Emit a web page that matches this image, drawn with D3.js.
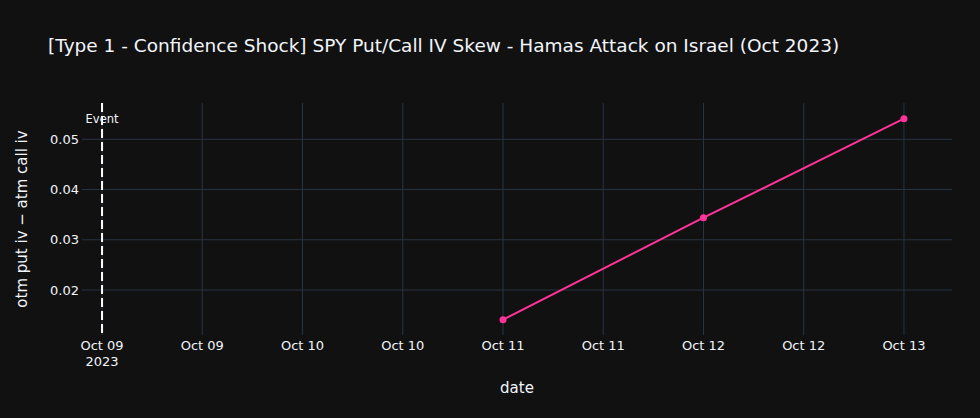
<!DOCTYPE html>
<html>
  <meta charset="utf-8">
  <head>
    <style>
        body {
              margin: 0;
              background-color: rgb(17,17,17);
              font-family: "DejaVu Sans", Verdana, sans-serif;
              }
        svg { display: block; }
    </style>
    <title>SPY Put/Call IV Skew</title>
    <script src="https://cdn.jsdelivr.net/npm/d3@7"></script>
  </head>
  <body>
    <script>
      // data
      var dates = ["2023-10-11", "2023-10-12", "2023-10-13"];
      var skew = [0.0141, 0.0344, 0.0541];
      var eventDate = "2023-10-09";
      var eventLabel = "Event";
      var yTicks = [0.02, 0.03, 0.04, 0.05];
      var titleText = "[Type 1 - Confidence Shock] SPY Put/Call IV Skew - Hamas Attack on Israel (Oct 2023)";
      var xTitle = "date";
      var yTitle = "otm put iv \u2212 atm call iv";

      function chart() {
        var W = 980, H = 418;
        var margin = {top: 103, right: 28, bottom: 83, left: 82},
            w = W - margin.left - margin.right,
            h = H - margin.top - margin.bottom;
        var HOUR = 3600 * 1000;

        var parse = d3.utcParse("%Y-%m-%d");
        var points = dates.map(function(d, i) { return {date: parse(d), v: skew[i]}; });
        var ev = parse(eventDate);
        var last = points[points.length - 1].date;

        var svg = d3.select("body").append("svg")
                    .attr("width", W)
                    .attr("height", H);

        svg.append("rect").attr("width", W).attr("height", H).attr("fill", "rgb(17,17,17)");

        var g = svg.append("g").attr("transform", "translate(" + margin.left + "," + margin.top + ")");

        var x = d3.scaleUtc()
                  .domain([new Date(+ev - 2.4 * HOUR), new Date(+last + 5.75 * HOUR)])
                  .range([0, w]);
        var y = d3.scaleLinear().domain([0.01104, 0.05723]).range([h, 0]);

        var xTicks = d3.utcHour.every(12).range(ev, new Date(+last + HOUR));

        // grid
        g.selectAll("line.vgrid").data(xTicks).enter().append("line")
         .attr("x1", function(d) { return x(d); }).attr("x2", function(d) { return x(d); })
         .attr("y1", 0).attr("y2", h)
         .attr("stroke", "#283442").attr("stroke-width", 1);
        g.selectAll("line.hgrid").data(yTicks).enter().append("line")
         .attr("x1", 0).attr("x2", w)
         .attr("y1", function(d) { return y(d); }).attr("y2", function(d) { return y(d); })
         .attr("stroke", "#283442").attr("stroke-width", 1);

        // x tick labels
        var fmt = d3.utcFormat("%b %d");
        var xl = g.selectAll("text.xt").data(xTicks).enter().append("text")
                  .attr("x", function(d) { return x(d); })
                  .attr("y", h + 15)
                  .attr("text-anchor", "middle")
                  .attr("font-size", "13px")
                  .attr("fill", "#f2f5fa");
        xl.append("tspan").attr("x", function(d) { return x(d); }).text(function(d) { return fmt(d); });
        xl.filter(function(d, i) { return i == 0; })
          .append("tspan").attr("x", function(d) { return x(d); }).attr("dy", 16)
          .text(function(d) { return d.getUTCFullYear(); });

        // y tick labels
        g.selectAll("text.yt").data(yTicks).enter().append("text")
         .attr("x", -3)
         .attr("y", function(d) { return y(d); })
         .attr("dy", "0.35em")
         .attr("text-anchor", "end")
         .attr("font-size", "13px")
         .attr("fill", "#f2f5fa")
         .text(function(d) { return d.toFixed(2); });

        // event line
        g.append("line")
         .attr("x1", x(ev)).attr("x2", x(ev))
         .attr("y1", 0).attr("y2", h)
         .attr("stroke", "white").attr("stroke-width", 2)
         .attr("stroke-dasharray", "9,4");
        g.append("text")
         .attr("x", x(ev)).attr("y", 20)
         .attr("text-anchor", "middle")
         .attr("font-size", "11.5px")
         .attr("fill", "#f2f5fa")
         .text(eventLabel);

        // series
        var line = d3.line().x(function(d) { return x(d.date); }).y(function(d) { return y(d.v); });
        g.append("path").datum(points)
         .attr("d", line)
         .attr("fill", "none")
         .attr("stroke", "#ff3399")
         .attr("stroke-width", 2);
        g.selectAll("circle").data(points).enter().append("circle")
         .attr("cx", function(d) { return x(d.date); })
         .attr("cy", function(d) { return y(d.v); })
         .attr("r", 3.5)
         .attr("fill", "#ff3399");

        // titles
        svg.append("text")
           .attr("x", 48).attr("y", 52)
           .attr("font-size", "18.5px")
           .attr("fill", "#f2f5fa")
           .text(titleText);
        svg.append("text")
           .attr("x", margin.left + w / 2).attr("y", 393)
           .attr("text-anchor", "middle")
           .attr("font-size", "15px")
           .attr("fill", "#f2f5fa")
           .text(xTitle);
        svg.append("text")
           .attr("transform", "translate(27," + (margin.top + h / 2) + ") rotate(-90)")
           .attr("text-anchor", "middle")
           .attr("font-size", "15px")
           .attr("fill", "#f2f5fa")
           .text(yTitle);
      }

      chart();
    </script>
  </body>
</html>
